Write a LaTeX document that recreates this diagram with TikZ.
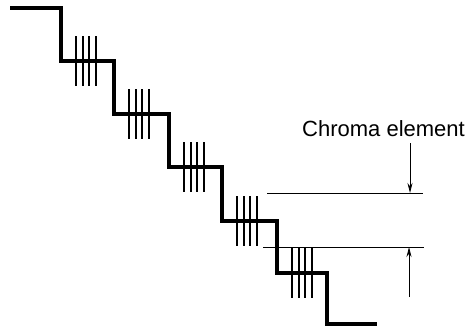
\documentclass[tikz,border=0pt]{standalone}
\usepackage{fontspec}
\setmainfont{Liberation Sans}
\usetikzlibrary{arrows.meta}
\begin{document}
\begin{tikzpicture}[x=1pt, y=-1pt]
    \useasboundingbox (0,0) rectangle (473,330);
    
    % staircase (luminance steps)
    \draw[line width=3.6pt, line join=miter] (10,8) -- (61,8) -- (61,61) -- (114,61) -- (114,114)
        -- (169,114) -- (169,167) -- (222,167) -- (222,221) -- (277,221)
        -- (277,273) -- (327,273) -- (327,324) -- (377,324);
    
    % chroma bursts on each flat step
    \foreach \cx/\cy in {61/61, 114/114, 169/167, 222/221, 277/273} {
        \foreach \dx in {15, 22, 28, 35} {
            \draw[line width=1.4pt] (\cx+\dx, \cy-25) -- (\cx+\dx, \cy+25);
        }
    }
    
    % limits of the chroma element
    \coordinate (TopL) at (267,193);
    \coordinate (TopR) at (423,193);
    \coordinate (BotL) at (263,247);
    \coordinate (BotR) at (424,247);
    \draw[line width=0.9pt] (TopL) -- (TopR);
    \draw[line width=0.9pt] (BotL) -- (BotR);
    
    \node[anchor=base west, inner sep=0pt, font=\fontsize{22}{26}\selectfont] (label) at (302,136) {Chroma element};
    
    \coordinate (DownS) at (410,143);
    \coordinate (DownE) at (410,193);
    \coordinate (UpS) at (409,297);
    \coordinate (UpE) at (409,247);
    \draw[line width=0.9pt, -{Stealth[length=10pt, width=5pt]}] (DownS) -- (DownE);
    \draw[line width=0.9pt, -{Stealth[length=10pt, width=5pt]}] (UpS) -- (UpE);
\end{tikzpicture}
\end{document}
